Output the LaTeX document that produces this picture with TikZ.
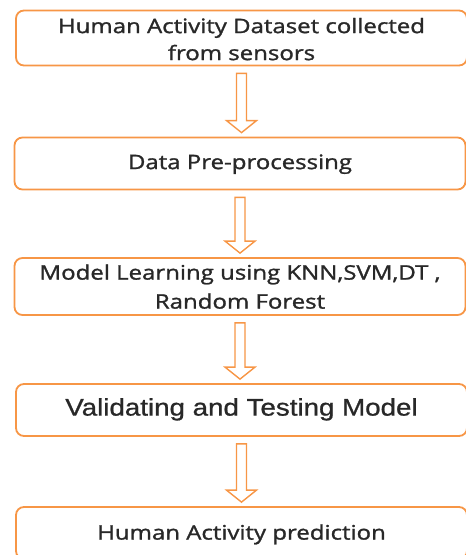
\documentclass[tikz,border=0pt]{standalone}
\usepackage{fontspec}
\usepackage{graphicx}
\setmainfont{Open Sans}[FakeBold=1.2]
\newfontfamily\arialfont{Liberation Sans}[FakeBold=0.8]
\usetikzlibrary{calc}
\definecolor{boxorange}{RGB}{247,150,70}
\definecolor{txtgray}{RGB}{40,40,40}
\newcommand\wtext[3][0pt]{\raisebox{#1}[\height][\depth]{\scalebox{#2}[1]{\begin{tabular}{@{}c@{}}#3\end{tabular}}}}
\tikzset{
  stage/.style={draw=boxorange, line width=1.8pt, rounded corners=8pt, fill=white,
    minimum width=451pt, minimum height=52pt, align=center, text=txtgray,
    font=\fontsize{20}{28}\selectfont, inner sep=0pt},
  blockarr/.style={draw=boxorange, line width=1.4pt, fill=white, line join=miter}
}
\newcommand\blockarrow[2]{%
  \draw[blockarr] let \p1=($(#1.south)+(0,-7pt)$), \p2=($(#2.north)+(0,4pt)$) in
    (\x1-5pt,\y1) -- (\x1-5pt,\y2+12pt) -- (\x1-15pt,\y2+12pt) -- (\x1,\y2)
    -- (\x1+15pt,\y2+12pt) -- (\x1+5pt,\y2+12pt) -- (\x1+5pt,\y1) -- cycle;}
\begin{document}
\begin{tikzpicture}[x=1pt,y=1pt]
\useasboundingbox (0,0) rectangle (466,-555);
\begin{scope}
\clip (0,0) rectangle (466,-555);
\node[stage] (b1) at (241.5,-38) {\wtext[-3pt]{1.2}{Human Activity Dataset collected\\[-1pt]from sensors}};
\node[stage] (b2) at (240,-163.5) {\wtext{1.2}{Data Pre-processing}};
\node[stage] (b3) at (240,-286.5) {\wtext[-2pt]{1.2}{Model Learning using KNN,SVM,DT ,\\[1pt]Random Forest}};
\node[stage, font=\arialfont\fontsize{24}{28}\selectfont] (b4) at (241.5,-410) {\wtext{1.155}{Validating and Testing Model}};
\node[stage] (b5) at (241.5,-533) {\wtext[-1pt]{1.2}{Human Activity prediction}};
\blockarrow{b1}{b2}
\blockarrow{b2}{b3}
\blockarrow{b3}{b4}
\blockarrow{b4}{b5}
\end{scope}
\end{tikzpicture}
\end{document}
